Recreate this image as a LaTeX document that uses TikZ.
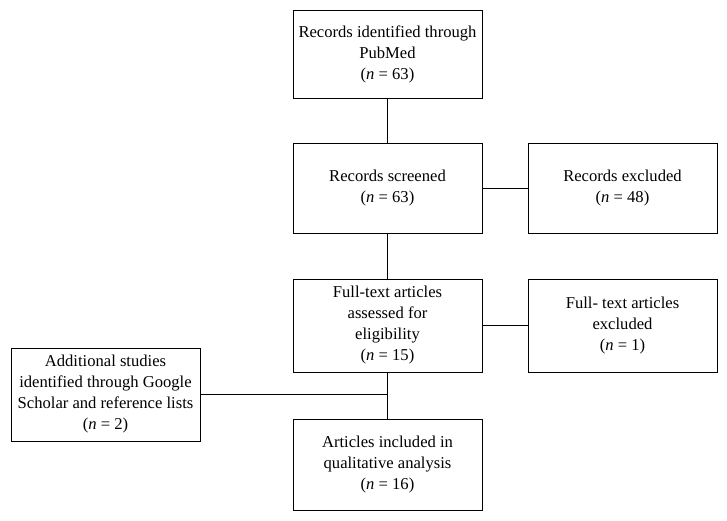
\documentclass[tikz,border=0pt]{standalone}
\usepackage{fontspec}
\setmainfont{Liberation Serif}
\begin{document}
\begin{tikzpicture}[x=1pt,y=-1pt,
  boxnode/.style={draw, line width=0.9pt, minimum width=189pt, align=center, inner sep=0pt,
    font=\fontsize{16.6}{21}\selectfont},
  link/.style={draw, line width=0.9pt}]
\useasboundingbox (0,0) rectangle (727,521);
\node[boxnode, minimum height=88pt] (top) at (387.5,54) {Records identified through\\PubMed\\(\textit{n} = 63)};
\node[boxnode, minimum height=90pt] (scr) at (387.5,188) {Records screened\\(\textit{n} = 63)};
\node[boxnode, minimum height=90pt] (exc) at (622.5,188) {Records excluded\\(\textit{n} = 48)};
\node[boxnode, minimum height=93pt] (full) at (387.5,325.5) {Full-text articles\\assessed for\\eligibility\\(\textit{n} = 15)};
\node[boxnode, minimum height=93pt] (fexc) at (622.5,325.5) {Full- text articles\\excluded\\(\textit{n} = 1)};
\node[boxnode, minimum height=93pt] (add) at (105.5,394.5) {Additional studies\\identified through Google\\Scholar and reference lists\\(\textit{n} = 2)};
\node[boxnode, minimum height=91pt] (art) at (387.5,464.5) {Articles included in\\qualitative analysis\\(\textit{n} = 16)};
\coordinate (join) at (add.east -| full.south);
\draw[link] (top.south) -- (scr.north);
\draw[link] (scr.east) -- (exc.west);
\draw[link] (scr.south) -- (full.north);
\draw[link] (full.east) -- (fexc.west);
\draw[link] (full.south) -- (art.north);
\draw[link] (add.east) -- (join);
\end{tikzpicture}
\end{document}
